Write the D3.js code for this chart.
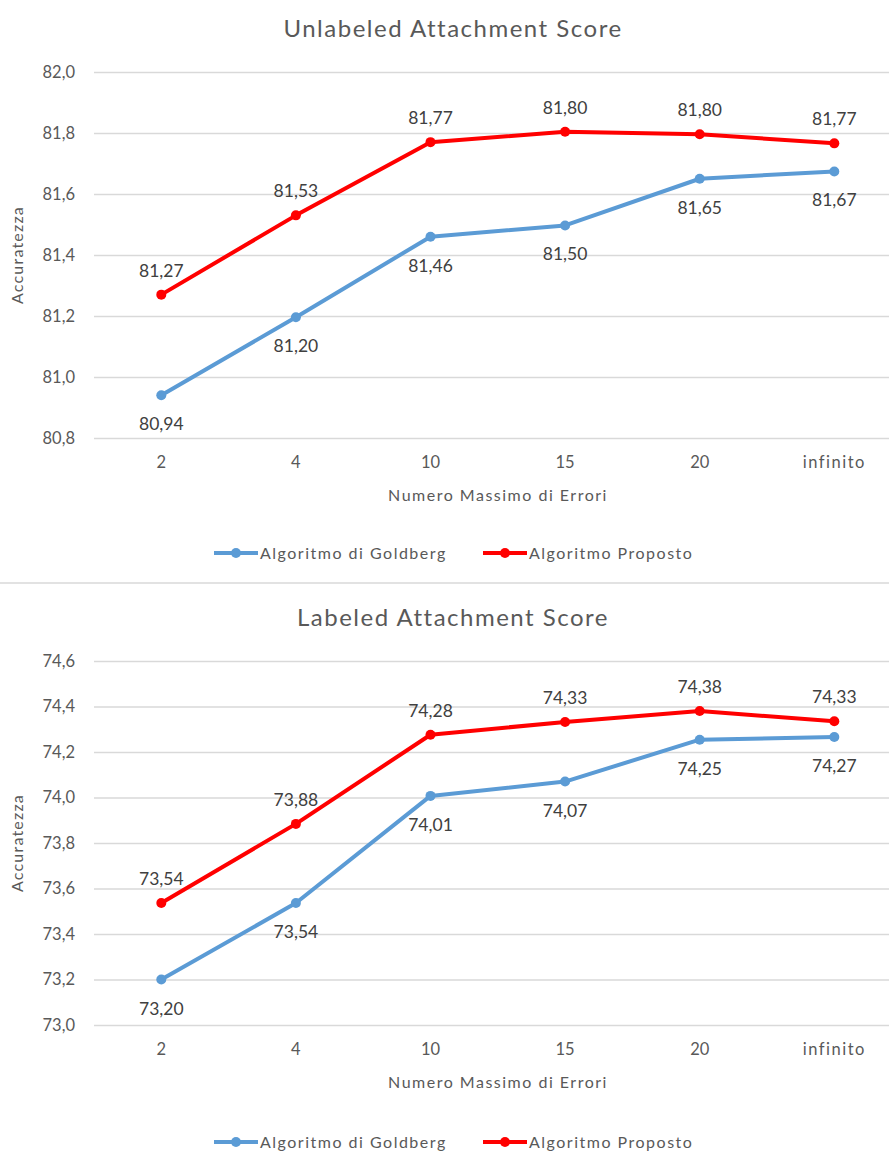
<!DOCTYPE html>
<html>
<head>
<meta charset="utf-8">
<script src="https://cdn.jsdelivr.net/npm/d3@7"></script>
<style>
  html, body { margin: 0; padding: 0; background: #fff; }
  svg { display: block; }
  text { font-family: Lato, "Open Sans", sans-serif; }
</style>
</head>
<body>
<svg id="chart" width="889" height="1153"></svg>
<script>
const categories = ["2", "4", "10", "15", "20", "infinito"];
const seriesNames = ["Algoritmo di Goldberg", "Algoritmo Proposto"];

// Unlabeled Attachment Score
const uasGoldberg = [80.94, 81.196, 81.46, 81.497, 81.65, 81.674];
const uasProposto = [81.27, 81.53, 81.77, 81.804, 81.796, 81.766];
const uasTicks = [80.8, 81.0, 81.2, 81.4, 81.6, 81.8, 82.0];

// Labeled Attachment Score
const lasGoldberg = [73.20, 73.536, 74.007, 74.07, 74.254, 74.266];
const lasProposto = [73.536, 73.884, 74.276, 74.332, 74.38, 74.335];
const lasTicks = [73.0, 73.2, 73.4, 73.6, 73.8, 74.0, 74.2, 74.4, 74.6];

const titles = ["Unlabeled Attachment Score", "Labeled Attachment Score"];
const xTitle = "Numero Massimo di Errori";
const yTitle = "Accuratezza";

const colors = ["#5B9BD5", "#FF0000"];
const svg = d3.select("#chart");
const fmt = v => d3.format(".2f")(v).replace(".", ",");
const fmtTick = v => d3.format(".1f")(v).replace(".", ",");

function drawChart(opt) {
  const g = svg.append("g");
  const x = d3.scaleBand().domain(categories).range([94, 94 + 6 * 134.6]);
  const y = d3.scaleLinear().domain([opt.ticks[0], opt.ticks[opt.ticks.length - 1]])
    .range([opt.yBottom, opt.yTop]);

  g.append("text").attr("x", 453).attr("y", opt.titleY)
    .attr("text-anchor", "middle").attr("font-size", 24).attr("fill", "#595959")
    .attr("letter-spacing", 1.5)
    .text(opt.title);

  // gridlines
  const yAxis = d3.axisLeft(y).tickValues(opt.ticks).tickFormat(fmtTick)
    .tickSize(-(6 * 134.6)).tickPadding(19);
  const ya = g.append("g").attr("transform", "translate(94,0)").call(yAxis);
  ya.select(".domain").remove();
  ya.selectAll(".tick line").attr("stroke", "#d9d9d9").attr("stroke-width", 1.3);
  ya.selectAll(".tick text").attr("fill", "#595959").attr("font-size", 16.5)
    .attr("font-family", "Lato, sans-serif");

  const xAxis = d3.axisBottom(x).tickSize(0).tickPadding(18);
  const xa = g.append("g").attr("transform", `translate(0,${opt.yBottom})`).call(xAxis);
  xa.select(".domain").remove();
  xa.selectAll(".tick text").attr("fill", "#595959").attr("font-size", 16.5)
    .attr("font-family", "Lato, sans-serif")
    .attr("letter-spacing", d => isNaN(+d) ? 1.5 : 0);

  g.append("text").attr("x", 498).attr("y", opt.yBottom + 63)
    .attr("text-anchor", "middle").attr("font-size", 16).attr("fill", "#595959")
    .attr("letter-spacing", 1.5)
    .text(xTitle);

  g.append("text")
    .attr("transform", `translate(23,${(opt.yTop + opt.yBottom) / 2}) rotate(-90)`)
    .attr("text-anchor", "middle").attr("font-size", 16).attr("fill", "#595959")
    .attr("letter-spacing", 1.2)
    .text(yTitle);

  const line = d3.line().x((d, i) => x(categories[i]) + x.bandwidth() / 2).y(d => y(d));
  opt.series.forEach((vals, si) => {
    g.append("path").datum(vals).attr("d", line).attr("fill", "none")
      .attr("stroke", colors[si]).attr("stroke-width", 4).attr("stroke-linejoin", "round");
    g.selectAll(null).data(vals).enter().append("circle")
      .attr("cx", (d, i) => x(categories[i]) + x.bandwidth() / 2)
      .attr("cy", d => y(d)).attr("r", 5).attr("fill", colors[si]);
    g.selectAll(null).data(vals).enter().append("text")
      .attr("x", (d, i) => x(categories[i]) + x.bandwidth() / 2)
      .attr("y", d => y(d) + (si === 1 ? -18 : 35))
      .attr("text-anchor", "middle").attr("font-size", 17.5).attr("fill", "#404040")
      .text(d => fmt(d));
  });

  // legend
  const legendX = [214, 483];
  seriesNames.forEach((name, si) => {
    const lx = legendX[si], ly = opt.legendY;
    g.append("line").attr("x1", lx).attr("x2", lx + 44).attr("y1", ly).attr("y2", ly)
      .attr("stroke", colors[si]).attr("stroke-width", 4);
    g.append("circle").attr("cx", lx + 22).attr("cy", ly).attr("r", 5).attr("fill", colors[si]);
    g.append("text").attr("x", lx + 46).attr("y", ly + 6).attr("font-size", 16)
      .attr("letter-spacing", 1.5)
      .attr("fill", "#595959").text(name);
  });
}

drawChart({ title: titles[0], titleY: 37, yTop: 72, yBottom: 438, ticks: uasTicks,
  series: [uasGoldberg, uasProposto], legendY: 553 });

svg.append("line").attr("x1", 0).attr("x2", 889).attr("y1", 583).attr("y2", 583)
  .attr("stroke", "#d9d9d9").attr("stroke-width", 1.5);

drawChart({ title: titles[1], titleY: 626, yTop: 661, yBottom: 1025, ticks: lasTicks,
  series: [lasGoldberg, lasProposto], legendY: 1142 });
</script>
</body>
</html>
